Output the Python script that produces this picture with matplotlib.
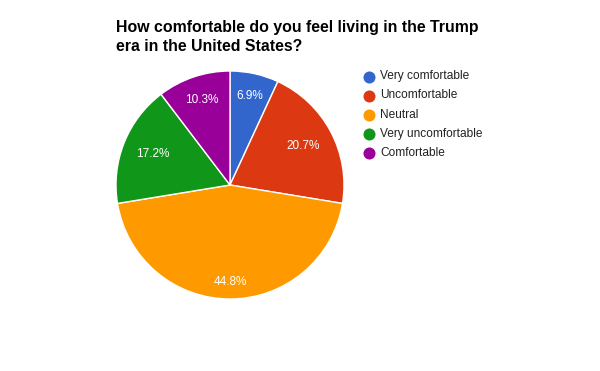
import numpy as np
import matplotlib.pyplot as plt

labels = ['Very comfortable', 'Uncomfortable', 'Neutral', 'Very uncomfortable', 'Comfortable']
counts = [2, 6, 13, 5, 3]
colors = ['#3366cc', '#dc3912', '#ff9900', '#109618', '#990099']

# how far out each percentage label sits (fraction of radius), as in the reference
label_dist = [0.8, 0.73, 0.85, 0.73, 0.79]

plt.rcParams['font.family'] = ['Liberation Sans', 'DejaVu Sans']

fig = plt.figure(figsize=(6, 3.71), dpi=100)
ax = fig.add_axes([0, 0, 1, 1])

cx, cy, r = 230, 186, 114
wedges, texts, autotexts = ax.pie(counts, colors=colors, startangle=90, counterclock=False,
                                  center=(cx, cy), radius=r, autopct='%1.1f%%',
                                  wedgeprops=dict(edgecolor='white', linewidth=1),
                                  textprops=dict(color='white', fontsize=8.5))
for w, t, d in zip(wedges, autotexts, label_dist):
    mid = np.deg2rad((w.theta1 + w.theta2) / 2)
    t.set_position((cx + d * r * np.cos(mid), cy + d * r * np.sin(mid)))

ax.set_xlim(0, 600)
ax.set_ylim(0, 371)
ax.set_aspect('equal')
ax.axis('off')

ax.text(116, 371 - 32, 'How comfortable do you feel living in the Trump',
        fontsize=11.4, fontweight='bold', ha='left', va='baseline')
ax.text(116, 371 - 51, 'era in the United States?',
        fontsize=11.4, fontweight='bold', ha='left', va='baseline')

for i, name in enumerate(labels):
    y = 371 - (76.5 + 19 * i)
    ax.scatter([369], [y], s=75, color=colors[i], zorder=3, linewidths=0)
    ax.text(380, y, name, fontsize=8.6, color='#222222', va='center', ha='left')

fig.savefig('out.png', dpi=100)
